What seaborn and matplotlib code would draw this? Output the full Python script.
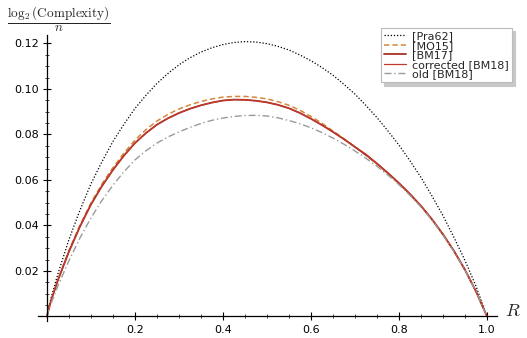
import numpy as np
import pandas as pd
import seaborn as sns
import matplotlib
matplotlib.use("Agg")
import matplotlib.pyplot as plt
from matplotlib.ticker import MultipleLocator, FixedLocator

# ---- data ----
R = [0, 0.005, 0.01, 0.025, 0.05, 0.075, 0.1, 0.125, 0.15, 0.175, 0.2, 0.225,
     0.25, 0.275, 0.3, 0.325, 0.35, 0.375, 0.4, 0.425, 0.45, 0.475, 0.5,
     0.525, 0.55, 0.575, 0.6, 0.625, 0.65, 0.675, 0.7, 0.725, 0.75, 0.775,
     0.8, 0.825, 0.85, 0.875, 0.9, 0.925, 0.95, 0.975, 1.0]
pra62 = [0, 0.0047, 0.0086, 0.0188, 0.0338, 0.0467, 0.0583, 0.0680, 0.0769,
         0.0845, 0.0914, 0.0972, 0.1024, 0.1068, 0.1106, 0.1137, 0.1162,
         0.1181, 0.1195, 0.1204, 0.1208, 0.1206, 0.1199, 0.1187, 0.1171,
         0.1149, 0.1124, 0.1094, 0.1060, 0.1020, 0.0977, 0.0927, 0.0874,
         0.0815, 0.0753, 0.0684, 0.0611, 0.0529, 0.0443, 0.0347, 0.0246,
         0.0133, 0]
mo15 = [0, 0.0042, 0.0074, 0.0162, 0.0290, 0.0401, 0.0499, 0.0582, 0.0654,
        0.0718, 0.0775, 0.0821, 0.0859, 0.0888, 0.0912, 0.0930, 0.0945,
        0.0956, 0.0964, 0.0967, 0.0967, 0.0963, 0.0956, 0.0944, 0.0928,
        0.0906, 0.0879, 0.0849, 0.0815, 0.0781, 0.0745, 0.0708, 0.0670,
        0.0628, 0.0584, 0.0536, 0.0484, 0.0425, 0.0359, 0.0286, 0.0204,
        0.0110, 0]
bm17 = [0, 0.0041, 0.0073, 0.0160, 0.0285, 0.0395, 0.0492, 0.0573, 0.0644,
        0.0707, 0.0762, 0.0806, 0.0843, 0.0871, 0.0894, 0.0913, 0.0928,
        0.0940, 0.0949, 0.0953, 0.0952, 0.0948, 0.0941, 0.0930, 0.0915,
        0.0894, 0.0869, 0.0841, 0.0811, 0.0779, 0.0745, 0.0710, 0.0672,
        0.0630, 0.0586, 0.0538, 0.0486, 0.0427, 0.0361, 0.0288, 0.0205,
        0.0110, 0]
bm18_corr = [0, 0.0041, 0.0073, 0.0160, 0.0285, 0.0395, 0.0492, 0.0573,
             0.0644, 0.0707, 0.0762, 0.0806, 0.0843, 0.0871, 0.0894, 0.0913,
             0.0928, 0.0940, 0.0949, 0.0953, 0.0952, 0.0948, 0.0941, 0.0930,
             0.0915, 0.0894, 0.0869, 0.0841, 0.0811, 0.0779, 0.0745, 0.0713,
             0.0672, 0.0630, 0.0586, 0.0538, 0.0486, 0.0427, 0.0361, 0.0288,
             0.0205, 0.0110, 0]
bm18_old = [0, 0.0034, 0.0060, 0.0135, 0.0245, 0.0345, 0.0433, 0.0510, 0.0577,
            0.0636, 0.0688, 0.0728, 0.0762, 0.0789, 0.0811, 0.0831, 0.0848,
            0.0862, 0.0872, 0.0879, 0.0883, 0.0884, 0.0881, 0.0873, 0.0861,
            0.0847, 0.0829, 0.0808, 0.0784, 0.0757, 0.0727, 0.0695, 0.0660,
            0.0621, 0.0579, 0.0532, 0.0481, 0.0423, 0.0357, 0.0285, 0.0203,
            0.0110, 0]
labels = ["[Pra62]", "[MO15]", "[BM17]", "corrected [BM18]", "old [BM18]"]
x_ticks = [0.2, 0.4, 0.6, 0.8, 1.0]
y_ticks = [0.02, 0.04, 0.06, 0.08, 0.10, 0.12]

sns.set_style("white")
plt.rcParams["font.family"] = ["DejaVu Sans"]
plt.rcParams["mathtext.fontset"] = "cm"

W, H = 527, 338
fig = plt.figure(figsize=(W / 100, H / 100), dpi=100)
left_px, right_px, top_px, bot_px = 37.7, 497.0, 35.0, 321.0
ax = fig.add_axes([left_px / W, 1 - bot_px / H, (right_px - left_px) / W,
                   (bot_px - top_px) / H])

series = [pra62, mo15, bm17, bm18_corr, bm18_old]
styles = [
    dict(color="black", linestyle=(0, (1, 1.5)), linewidth=0.9),
    dict(color="#d4873a", linestyle=(0, (3.5, 2)), linewidth=1.1),
    dict(color="#a83226", linestyle="-", linewidth=1.3),
    dict(color="#c0392b", linestyle="-", linewidth=0.9),
    dict(color="#9a9a9a", linestyle=(0, (5, 2, 1, 2)), linewidth=1.0),
]
for vals, lab, st in zip(series, labels, styles):
    df = pd.DataFrame({"R": R, "c": vals})
    sns.lineplot(data=df, x="R", y="c", ax=ax, label=lab, **st)

ax.set_xlim(-0.021, 1.0227)
ax.set_ylim(-0.002, 0.1237)
ax.set_xlabel("")
ax.set_ylabel("")

for s in ["top", "right"]:
    ax.spines[s].set_visible(False)
ax.spines["left"].set_position(("data", 0))
ax.spines["bottom"].set_position(("data", 0))
for s in ["left", "bottom"]:
    ax.spines[s].set_color("black")
    ax.spines[s].set_linewidth(0.9)

ax.xaxis.set_major_locator(FixedLocator(x_ticks))
ax.yaxis.set_major_locator(FixedLocator(y_ticks))
ax.xaxis.set_minor_locator(MultipleLocator(0.05))
ax.yaxis.set_minor_locator(MultipleLocator(0.005))
ax.set_xticklabels([f"{v:.1f}" for v in x_ticks])
ax.set_yticklabels([f"{v:.2f}" for v in y_ticks])
ax.tick_params(which="major", direction="inout", length=6, width=0.8,
               labelsize=8, colors="black", bottom=True, left=True, pad=3)
ax.tick_params(which="minor", direction="inout", length=3, width=0.6,
               bottom=True, left=True)

fig.text(505 / W, 1 - 311 / H, "$R$", fontsize=13, ha="left", va="center")
fig.text(59 / W, 1 - 19 / H, r"$\dfrac{\log_2(\mathrm{Complexity})}{n}$",
         fontsize=9.5, ha="center", va="center")

leg = ax.legend(loc="upper right", bbox_to_anchor=(512 / W, 1 - 28 / H),
                bbox_transform=fig.transFigure, fontsize=8, frameon=True,
                fancybox=False,
                shadow={"color": "#c8c8c8", "alpha": 1.0, "ox": 2.5, "oy": -2.5},
                handlelength=2.0, borderpad=0.3, labelspacing=-0.05,
                handletextpad=0.5, borderaxespad=0)
leg.get_frame().set_edgecolor("#bbbbbb")
leg.get_frame().set_linewidth(0.8)

fig.savefig("out.png", dpi=100)
